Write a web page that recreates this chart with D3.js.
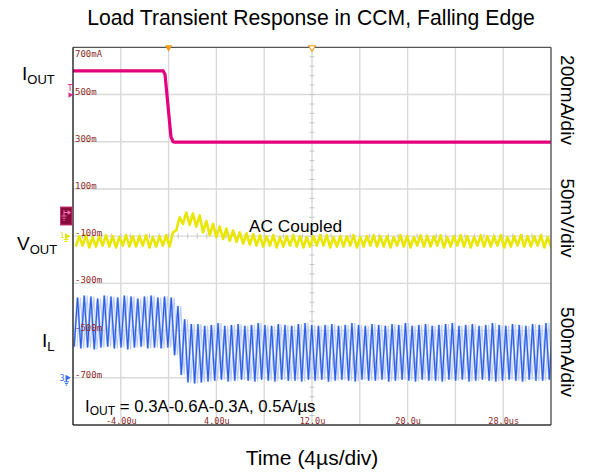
<!DOCTYPE html>
<html><head><meta charset="utf-8">
<script src="https://cdn.jsdelivr.net/npm/d3@7"></script>
<style>
body{margin:0;background:#fff;}
svg{display:block;}
</style></head><body>
<svg id="chart" width="592" height="473"></svg>
<script>
// ---- Time base (µs) ----
const timeStartUs = -8;
const timeEndUs = 32;
const switchPeriodUs = 0.56;
const switchPhaseUs = 0.1;
const persistShiftUs = 0.24;   // older acquisition kept on screen by persistence

const timeTickValues = [-4, 4, 12, 20, 28];
const timeTickLabels = ["-4.00u", "4.00u", "12.0u", "20.0u", "28.0us"];

// Ch scale labels on the left edge (I_OUT channel, A)
const iOutTickValues = [0.7, 0.5, 0.3, 0.1, -0.1, -0.3, -0.5, -0.7];
const iOutTickLabels = ["700mA", "500m", "300m", "100m", "-100m", "-300m", "-500m", "-700m"];

// ---- Load current I_OUT (A) ----
const iOutTimeUs = [-8, -0.45, -0.3, 0.2, 0.38, 0.5, 32];
const iOutAmps   = [0.60, 0.60, 0.585, 0.32, 0.30, 0.298, 0.298];

// ---- Inductor current I_L, one entry per switching cycle (A) ----
const ilPeakA = [
  0.85,0.87,0.86,0.84,0.87,0.86,0.85,0.87,0.86,0.84,0.86,0.87,0.85,0.86,0.85,
  0.76,0.62,0.57,
  0.57,0.55,0.56,0.58,0.55,0.56,0.57,0.55,0.56,0.58,
  0.56,0.55,0.57,0.56,0.55,0.57,0.58,0.56,0.55,0.56,
  0.57,0.55,0.56,0.58,0.56,0.55,0.57,0.56,0.55,0.57,
  0.56,0.58,0.55,0.56,0.57,0.55,0.56,0.57,0.58,0.55,
  0.56,0.57,0.55,0.56,0.58,0.56,0.55,0.57,0.56,0.55,
  0.57,0.56,0.58,0.56
];
const ilValleyA = [
  0.33,0.31,0.32,0.30,0.32,0.33,0.31,0.32,0.30,0.32,0.33,0.31,0.32,0.31,0.32,
  0.24,0.03,-0.05,
  -0.06,-0.05,-0.04,-0.03,-0.02,-0.04,-0.03,-0.02,-0.03,-0.04,
  -0.02,-0.03,-0.04,-0.02,-0.03,-0.03,-0.04,-0.02,-0.03,-0.02,
  -0.04,-0.03,-0.02,-0.03,-0.04,-0.02,-0.03,-0.03,-0.02,-0.04,
  -0.03,-0.02,-0.03,-0.04,-0.02,-0.03,-0.03,-0.04,-0.02,-0.03,
  -0.02,-0.04,-0.03,-0.02,-0.03,-0.04,-0.03,-0.02,-0.03,-0.04,
  -0.02,-0.03,-0.03,-0.02
];

// ---- Output voltage V_OUT, AC coupled, per switching cycle (mV) ----
const vOutHighMv = [
  0,1,-1,0,1,0,-1,1,0,0,1,-1,0,1,4,
  20,25,24,22,16,13,10,8,6,4,3,2,1,
  0,1,-1,0,1,0,-1,0,1,1,
  -1,0,0,1,-1,0,1,0,0,-1,
  1,0,-1,1,0,0,1,-1,0,1,
  0,-1,1,0,0,1,-1,0,1,0,
  0,1,-1,0
];
const vOutLowMv = [
  -11,-10,-12,-11,-10,-11,-12,-10,-11,-11,-10,-12,-11,-10,-11,
  6,13,12,10,4,1,-1,-3,-5,-6,-8,-9,-10,
  -11,-10,-12,-11,-10,-11,-12,-11,-10,-10,
  -12,-11,-11,-10,-12,-11,-10,-11,-11,-12,
  -10,-11,-12,-10,-11,-11,-10,-12,-11,-10,
  -11,-12,-10,-11,-11,-10,-12,-11,-10,-11,
  -11,-10,-12,-11
];

// ---- Layout ----
const W = 592, H = 473;
const px0 = 73, px1 = 551, py0 = 47.3, py1 = 425;
const svg = d3.select("#chart");
const sans = "'Liberation Sans', Arial, Helvetica, sans-serif";
const mono = "'DejaVu Sans Mono', 'Liberation Mono', monospace";

const x = d3.scaleLinear().domain([timeStartUs, timeEndUs]).range([px0, px1]);
const yDiv = d3.scaleLinear().domain([0, 8]).range([py0, py1]);
const yIout = d3.scaleLinear().domain([0.7, -0.9]).range([py0, py1]);   // 200 mA/div
const yVout = d3.scaleLinear().domain([200, -200]).range([py0, py1]);   // 50 mV/div
const yIl   = d3.scaleLinear().domain([3.5, -0.5]).range([py0, py1]);   // 500 mA/div

svg.append("rect").attr("width", W).attr("height", H).attr("fill", "#fff");

// ---- Graticule ----
const grid = svg.append("g");
grid.selectAll("line.v").data(d3.range(timeStartUs + 4, timeEndUs, 4)).join("line")
  .attr("x1", d => x(d)).attr("x2", d => x(d)).attr("y1", py0).attr("y2", py1)
  .attr("stroke", "#d9d9d9").attr("stroke-width", 1.4);
grid.selectAll("line.h").data(d3.range(1, 8)).join("line")
  .attr("x1", px0).attr("x2", px1).attr("y1", d => yDiv(d)).attr("y2", d => yDiv(d))
  .attr("stroke", "#d9d9d9").attr("stroke-width", 1.4);

// minor ticks on the centre cross
const cx = x(12), cy = yDiv(4);
grid.selectAll("line.mt").data(d3.range(0.2, 8, 0.2)).join("line")
  .attr("x1", cx - 2.5).attr("x2", cx + 2.5)
  .attr("y1", d => yDiv(d)).attr("y2", d => yDiv(d))
  .attr("stroke", "#c4c4c4").attr("stroke-width", 1);
grid.selectAll("line.mh").data(d3.range(timeStartUs + 0.8, timeEndUs, 0.8)).join("line")
  .attr("x1", d => x(d)).attr("x2", d => x(d))
  .attr("y1", cy - 2.5).attr("y2", cy + 2.5)
  .attr("stroke", "#c4c4c4").attr("stroke-width", 1);

// ---- Traces ----
svg.append("clipPath").attr("id", "plotClip").append("rect")
  .attr("x", px0).attr("y", py0).attr("width", px1 - px0).attr("height", py1 - py0);
const traces = svg.append("g").attr("clip-path", "url(#plotClip)");

// I_OUT
const iOutPts = iOutTimeUs.map((t, i) => [t, iOutAmps[i]]);
traces.append("path").datum(iOutPts)
  .attr("d", d3.line().x(d => x(d[0])).y(d => yIout(d[1])))
  .attr("fill", "none").attr("stroke", "#e2007c").attr("stroke-width", 3.2)
  .attr("stroke-linejoin", "round");

// V_OUT : each cycle contributes a low and a high point
const vOutPts = [];
vOutHighMv.forEach((hi, k) => {
  const t0 = timeStartUs + switchPhaseUs + k * switchPeriodUs;
  vOutPts.push([t0 + 0.25 * switchPeriodUs, vOutLowMv[k]]);
  vOutPts.push([t0 + 0.75 * switchPeriodUs, hi]);
});
traces.append("path").datum(vOutPts)
  .attr("d", d3.line().x(d => x(d[0])).y(d => yVout(d[1])))
  .attr("fill", "none").attr("stroke", "#e9e600").attr("stroke-width", 2.6)
  .attr("stroke-linejoin", "round");

// I_L : valley then peak per cycle; a faint persisted copy sits behind the live trace
const ilPts = [];
ilPeakA.forEach((pk, k) => {
  const t0 = timeStartUs + switchPhaseUs + k * switchPeriodUs;
  ilPts.push([t0, ilValleyA[k]]);
  ilPts.push([t0 + 0.5 * switchPeriodUs, pk]);
});
const ilLine = d3.line().x(d => x(d[0])).y(d => yIl(d[1]));
const ilPersist = d3.line().x(d => x(d[0] + persistShiftUs)).y(d => yIl(d[1]));
traces.append("path").datum(ilPts).attr("d", ilPersist)
  .attr("fill", "none").attr("stroke", "#bccdf6").attr("stroke-width", 1.1);
traces.append("path").datum(ilPts).attr("d", ilLine)
  .attr("fill", "none").attr("stroke", "#9db6f3").attr("stroke-width", 2.2);
traces.append("path").datum(ilPts).attr("d", ilLine)
  .attr("fill", "none").attr("stroke", "#2b5de6").attr("stroke-width", 1.1);

// ---- Axis labels in the scope font (drawn over the traces) ----
const leftAxis = svg.append("g").attr("transform", `translate(${px0},0)`)
  .call(d3.axisRight(yIout).tickValues(iOutTickValues)
    .tickFormat((d, i) => iOutTickLabels[i]).tickSize(0));
leftAxis.select(".domain").remove();
leftAxis.selectAll("text")
  .attr("x", 2).attr("dy", (d, i) => i === 0 ? "8.8" : "-0.5")
  .attr("fill", "#8c2a2a").attr("font-family", mono).attr("font-size", 9);

const bottomAxis = svg.append("g").attr("transform", `translate(0,${py1})`)
  .call(d3.axisTop(x).tickValues(timeTickValues)
    .tickFormat((d, i) => timeTickLabels[i]).tickSize(0));
bottomAxis.select(".domain").remove();
bottomAxis.selectAll("text")
  .attr("y", 0).attr("dy", "-1.2")
  .attr("fill", "#8c2a2a").attr("font-family", mono).attr("font-size", 8.5);

// ---- Frame ----
svg.append("line").attr("x1", px0).attr("x2", px1).attr("y1", py0).attr("y2", py0)
  .attr("stroke", "#555").attr("stroke-width", 1.2);
svg.append("line").attr("x1", px1).attr("x2", px1).attr("y1", py0).attr("y2", py1)
  .attr("stroke", "#555").attr("stroke-width", 1.4);
svg.append("line").attr("x1", px0).attr("x2", px1).attr("y1", py1).attr("y2", py1)
  .attr("stroke", "#333").attr("stroke-width", 1.4);
svg.append("line").attr("x1", px0).attr("x2", px0).attr("y1", py0).attr("y2", py1)
  .attr("stroke", "#222").attr("stroke-width", 1.4);

// ---- Markers ----
const trigX = x(0), refX = x(12);
svg.append("path")
  .attr("d", `M${trigX - 3.6},${py0 - 2} L${trigX + 3.6},${py0 - 2} L${trigX},${py0 + 4.5} Z`)
  .attr("fill", "#f29a12");
svg.append("path")
  .attr("d", `M${refX - 3.4},${py0 - 1.5} L${refX + 3.4},${py0 - 1.5} L${refX},${py0 + 4.2} Z`)
  .attr("fill", "#fff").attr("stroke", "#f29a12").attr("stroke-width", 1.1);

// trigger level (pink T)
svg.append("text").attr("x", 67.6).attr("y", 90.5).text("T")
  .attr("font-family", mono).attr("font-size", 8.5).attr("fill", "#e2208a");
svg.append("path").attr("d", `M68.5,${yIout(0.5) - 2.3} L73,${yIout(0.5) + 0.5} L68.5,${yIout(0.5) + 3.3} Z`)
  .attr("fill", "#e2208a");

// I_OUT channel ground badge
svg.append("rect").attr("x", 60.5).attr("y", 207).attr("width", 11.5).attr("height", 18)
  .attr("fill", "#860b3a").attr("stroke", "#c53477").attr("stroke-width", 1);
const badge = svg.append("g").attr("stroke", "#f070b0").attr("stroke-width", 1).attr("fill", "none");
badge.append("path").attr("d", "M64,210 L64,216 M61.5,216 L66.5,216 M62.5,218.2 L65.5,218.2 M63.3,220.3 L64.7,220.3 M64,212.5 L69,212.5");
badge.append("path").attr("d", "M68,210.8 L70.5,212.5 L68,214.2 Z").attr("fill", "#f070b0");

// V_OUT ground marker
const vz = yVout(0);
svg.append("text").attr("x", 60).attr("y", vz + 2).text("1")
  .attr("font-family", mono).attr("font-size", 7.5).attr("fill", "#dcd800");
svg.append("path").attr("d", `M65,${vz - 3} L70.5,${vz} L65,${vz + 3} Z`).attr("fill", "#e6e300");
svg.append("path").attr("d", `M66,${vz} L66,${vz + 3.5} M63.5,${vz + 3.5} L68.5,${vz + 3.5} M64.5,${vz + 5.3} L67.5,${vz + 5.3}`)
  .attr("stroke", "#e6e300").attr("stroke-width", 1);

// I_L ground marker
const iz = yIl(0);
svg.append("text").attr("x", 59.5).attr("y", iz + 3).text("3")
  .attr("font-family", mono).attr("font-size", 8.5).attr("fill", "#3a6cf0");
svg.append("path").attr("d", `M65.5,${iz - 3} L71,${iz} L65.5,${iz + 3} Z`).attr("fill", "#3a6cf0");
svg.append("path").attr("d", `M66.5,${iz} L66.5,${iz + 4} M64,${iz + 4} L69,${iz + 4} M65,${iz + 5.8} L68,${iz + 5.8} M65.8,${iz + 7.4} L67.2,${iz + 7.4}`)
  .attr("stroke", "#3a6cf0").attr("stroke-width", 1);

// ---- Text ----
svg.append("text").attr("x", 311).attr("y", 24.5).attr("text-anchor", "middle")
  .attr("font-family", sans).attr("font-size", 21.2).attr("fill", "#000")
  .text("Load Transient Response in CCM, Falling Edge");

svg.append("text").attr("x", 312).attr("y", 465).attr("text-anchor", "middle")
  .attr("font-family", sans).attr("font-size", 21).attr("fill", "#000")
  .text("Time (4µs/div)");

function subLabel(xp, yp, main, sub, mainSize, subSize, drop) {
  const t = svg.append("text").attr("x", xp).attr("y", yp)
    .attr("font-family", sans).attr("font-size", mainSize).attr("fill", "#000");
  t.append("tspan").text(main);
  t.append("tspan").attr("font-size", subSize).attr("dy", drop).text(sub);
  return t;
}
subLabel(22, 80, "I", "OUT", 19, 13, 4);
subLabel(17, 250, "V", "OUT", 19, 13, 4);
subLabel(42, 347, "I", "L", 19, 13, 4);

const scaleLabels = [
  { y: 100, text: "200mA/div" },
  { y: 218, text: "50mV/div" },
  { y: 352, text: "500mA/div" }
];
svg.selectAll("text.div").data(scaleLabels).join("text")
  .attr("transform", d => `translate(561,${d.y}) rotate(90)`)
  .attr("text-anchor", "middle")
  .attr("font-family", sans).attr("font-size", 19).attr("fill", "#000")
  .text(d => d.text);

svg.append("text").attr("x", 249).attr("y", 232)
  .attr("font-family", sans).attr("font-size", 17.3).attr("fill", "#000")
  .text("AC Coupled");

const note = svg.append("text").attr("x", 85).attr("y", 412)
  .attr("font-family", sans).attr("font-size", 16.8).attr("fill", "#000");
note.append("tspan").text("I");
note.append("tspan").attr("font-size", 12).attr("dy", 3).text("OUT");
note.append("tspan").attr("dy", -3).text(" = 0.3A-0.6A-0.3A, 0.5A/µs");
</script></body></html>
